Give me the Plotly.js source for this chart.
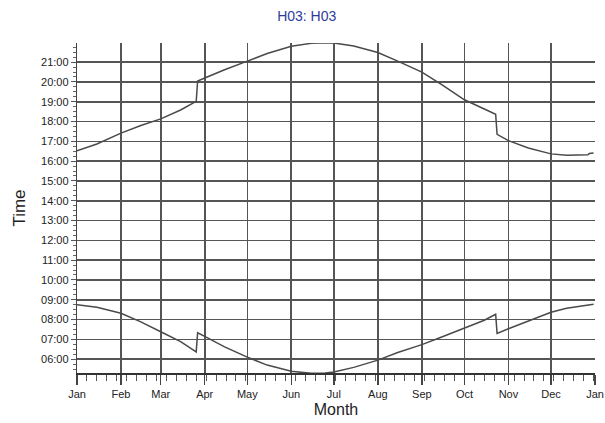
<!DOCTYPE html>
<html>
<head>
<meta charset="utf-8">
<script src="https://cdn.plot.ly/plotly-3.0.1.min.js"></script>
<style>
  html, body { margin: 0; padding: 0; background: #ffffff; }
  #chart { width: 605px; height: 423px; }
</style>
</head>
<body>
<div id="chart"></div>
<script>
// Sample dates (year is arbitrary, non-leap)
const dates = [
  "2011-01-01","2011-01-15","2011-02-01","2011-02-15","2011-03-01","2011-03-15",
  "2011-03-26","2011-03-27","2011-04-01","2011-04-15","2011-05-01","2011-05-15",
  "2011-06-01","2011-06-15","2011-06-25","2011-07-01","2011-07-15","2011-08-01",
  "2011-08-15","2011-09-01","2011-09-15","2011-10-01","2011-10-15","2011-10-23",
  "2011-10-24","2011-11-01","2011-11-15","2011-12-01","2011-12-12","2011-12-27",
  "2011-12-28","2011-12-31"
];
// Sunset times (HH:MM)
const sunset = [
  "16:31","16:52","17:25","17:48","18:08","18:35",
  "19:01","20:03","20:12","20:37","21:03","21:26",
  "21:48","21:57","21:59","21:58","21:49","21:29",
  "21:03","20:30","19:52","19:06","18:38","18:22",
  "17:21","17:02","16:40","16:22","16:18","16:19",
  "16:23","16:25"
];
// Sunrise times (HH:MM)
const sunrise = [
  "08:45","08:37","08:19","07:53","07:23","06:53",
  "06:22","07:20","07:09","06:37","06:06","05:42",
  "05:23","05:17","05:18","05:21","05:35","05:57",
  "06:20","06:44","07:07","07:33","07:58","08:16",
  "07:18","07:32","07:56","08:22","08:34","08:44",
  "08:45","08:46"
];
const titleText = "H03: H03";
const xTitle = "Month";
const yTitle = "Time";
const xRange = ["2011-01-01", "2012-01-01"];
const yRange = ["05:18", "21:58"];

const day0 = "2000-01-01 ";
const toT = a => a.map(t => day0 + t);

const lineStyle = { color: "#4a4a4a", width: 1.5 };
const traces = [
  { x: dates, y: toT(sunset), type: "scatter", mode: "lines", line: lineStyle, hoverinfo: "skip" },
  { x: dates, y: toT(sunrise), type: "scatter", mode: "lines", line: lineStyle, hoverinfo: "skip" }
];

const gridC = "#555555";
const layout = {
  width: 605, height: 423,
  margin: { l: 77, r: 10, t: 43, b: 50 },
  paper_bgcolor: "#ffffff",
  plot_bgcolor: "#ffffff",
  showlegend: false,
  hovermode: false,
  font: { family: "Liberation Sans, Arial, sans-serif", color: "#222222", size: 11 },
  title: {
    text: titleText,
    font: { size: 14, color: "#2e3b9c", family: "Liberation Sans, Arial, sans-serif" },
    xref: "container", x: 0.507, xanchor: "center",
    yref: "container", y: 1 - 16/423, yanchor: "middle"
  },
  xaxis: {
    type: "date",
    range: xRange,
    dtick: "M1",
    tick0: "2011-01-01",
    tickformat: "%b",
    showgrid: true, gridcolor: gridC, gridwidth: 1.6,
    showline: true, linecolor: "#333333", linewidth: 1.5,
    ticks: "outside", ticklen: 10, tickcolor: "#444444", tickwidth: 1.5,
    minor: { dtick: 7 * 86400000, tick0: "2011-01-01", ticks: "outside", ticklen: 6, tickcolor: "#555555", tickwidth: 1, showgrid: false },
    tickfont: { size: 11, color: "#222222" },
    zeroline: false,
    title: { text: xTitle, font: { size: 16, color: "#222222" }, standoff: 5 }
  },
  yaxis: {
    type: "date",
    range: yRange.map(t => day0 + t),
    dtick: 3600000,
    tick0: "2000-01-01 00:00",
    tickformat: "%H:%M",
    showgrid: true, gridcolor: gridC, gridwidth: 1.6,
    showline: true, linecolor: "#444444", linewidth: 1.2,
    ticks: "outside", ticklen: 5, tickcolor: "#555555", tickwidth: 1,
    minor: { dtick: 900000, tick0: "2000-01-01 00:00", ticks: "outside", ticklen: 3, tickcolor: "#666666", tickwidth: 1, showgrid: false },
    tickfont: { size: 11, color: "#222222" },
    zeroline: false,
    title: { text: yTitle, font: { size: 17, color: "#222222" }, standoff: 11 }
  }
};

Plotly.newPlot("chart", traces, layout, { displayModeBar: false, staticPlot: true });
</script>
</body>
</html>
